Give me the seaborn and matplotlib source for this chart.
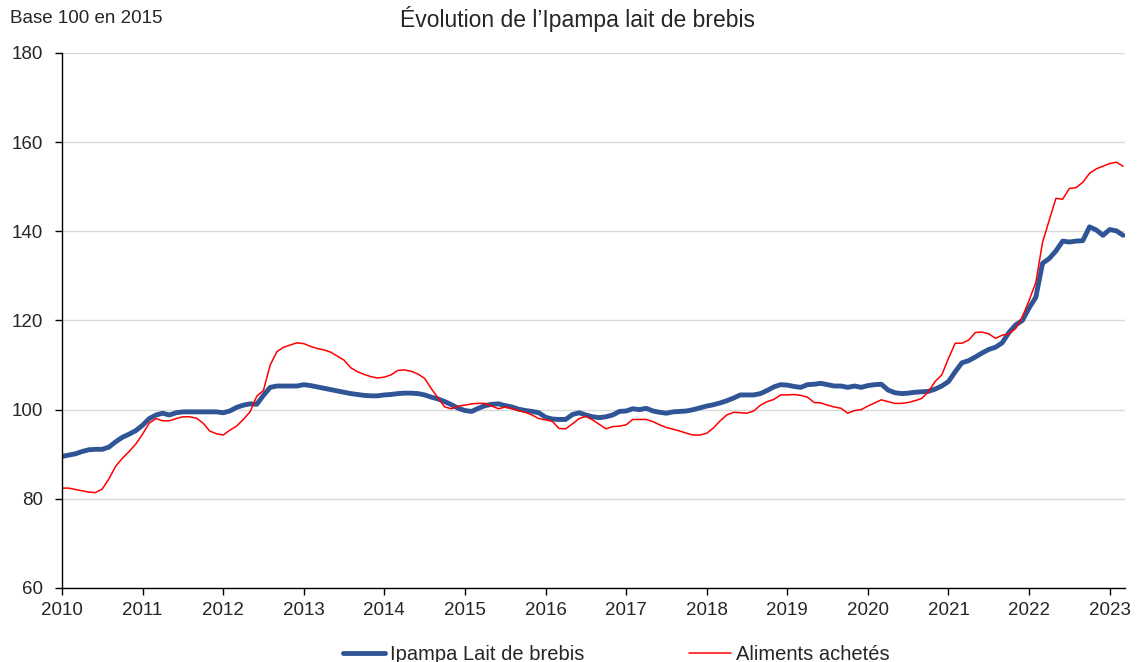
import numpy as np
import pandas as pd
import seaborn as sns
import matplotlib.pyplot as plt
from matplotlib.lines import Line2D

# monthly values, Jan 2010 -> Mar 2023 (base 100 in 2015)
ipampa = [89.5, 89.8, 90.1, 90.6, 91.0, 91.1, 91.1, 91.6, 92.8, 93.8, 94.5, 95.3,
          96.5, 98.0, 98.8, 99.2, 98.8, 99.3, 99.5, 99.5, 99.5, 99.5, 99.5, 99.5,
          99.3, 99.7, 100.5, 101.0, 101.3, 101.2, 103.2, 105.0, 105.3, 105.3, 105.3, 105.3,
          105.6, 105.4, 105.1, 104.8, 104.5, 104.2, 103.9, 103.6, 103.4, 103.2, 103.1, 103.1,
          103.3, 103.4, 103.6, 103.7, 103.7, 103.6, 103.3, 102.8, 102.4, 101.8, 101.1, 100.3,
          99.8, 99.6, 100.3, 100.9, 101.2, 101.3, 100.9, 100.6, 100.1, 99.8, 99.6, 99.3,
          98.3, 97.9, 97.8, 97.8, 98.9, 99.3, 98.8, 98.4, 98.2, 98.4, 98.8, 99.6,
          99.7, 100.2, 100.0, 100.3, 99.7, 99.4, 99.2, 99.5, 99.6, 99.7, 100.0, 100.4,
          100.8, 101.1, 101.5, 102.0, 102.6, 103.3, 103.3, 103.3, 103.6, 104.3, 105.1, 105.6,
          105.5, 105.2, 105.0, 105.6, 105.7, 105.9, 105.6, 105.3, 105.3, 105.0, 105.3, 105.0,
          105.4, 105.6, 105.7, 104.4, 103.8, 103.6, 103.7, 103.9, 104.0, 104.1, 104.6, 105.3,
          106.3, 108.5, 110.5, 111.0, 111.8, 112.7, 113.5, 114.0, 115.0, 117.3, 119.0, 120.0,
          122.8, 125.2, 132.8, 133.9, 135.6, 137.8, 137.6, 137.8, 137.9, 141.0, 140.3, 139.1,
          140.4, 140.1, 139.1]

aliments = [82.4, 82.4, 82.1, 81.8, 81.5, 81.4, 82.2, 84.5, 87.3, 89.1, 90.6, 92.3,
            94.5, 97.0, 98.0, 97.5, 97.5, 98.0, 98.4, 98.4, 98.1, 97.0, 95.2, 94.6,
            94.3, 95.4, 96.3, 97.8, 99.5, 103.0, 104.3, 110.0, 113.0, 114.0, 114.5, 115.0,
            114.8, 114.2, 113.7, 113.4, 112.9, 112.0, 111.1, 109.4, 108.5, 107.9, 107.4, 107.1,
            107.3, 107.8, 108.8, 108.9, 108.6, 108.0, 107.0, 104.7, 102.6, 100.6, 100.2, 100.8,
            101.0, 101.3, 101.4, 101.4, 100.8, 100.2, 100.6, 100.2, 99.8, 99.4, 98.8, 98.0,
            97.7, 97.4, 95.8, 95.7, 96.8, 98.0, 98.5, 97.7, 96.7, 95.7, 96.2, 96.3,
            96.6, 97.8, 97.8, 97.8, 97.3, 96.6, 96.0, 95.6, 95.2, 94.7, 94.3, 94.3,
            94.7, 95.9, 97.5, 98.8, 99.4, 99.3, 99.2, 99.7, 101.0, 101.8, 102.3, 103.3,
            103.3, 103.4, 103.2, 102.8, 101.6, 101.5, 101.0, 100.6, 100.3, 99.2, 99.8, 100.0,
            100.8, 101.5, 102.2, 101.8, 101.4, 101.4, 101.6, 102.0, 102.5, 104.0, 106.3, 107.8,
            111.5, 114.9, 114.9, 115.6, 117.3, 117.4, 117.0, 116.0, 116.7, 117.0, 118.2, 120.8,
            124.5, 128.5, 137.5, 142.5, 147.4, 147.2, 149.6, 149.8, 151.0, 153.0, 154.0, 154.6,
            155.2, 155.5, 154.6]

years = list(range(2010, 2024))
yticks = [60, 80, 100, 120, 140, 160, 180]
labels = ['Ipampa Lait de brebis', 'Aliments achetés']
colors = ['#2F5597', '#FF0000']
widths = [3.5, 1.1]

t = 2010 + np.arange(len(ipampa)) / 12
df = pd.DataFrame({'t': t, labels[0]: ipampa, labels[1]: aliments})
df = df.melt(id_vars='t', var_name='serie', value_name='indice')

sns.set_style('white')
plt.rcParams['font.family'] = ['Liberation Sans', 'DejaVu Sans']

fig = plt.figure(figsize=(11.39, 6.62), dpi=100)
ax = fig.add_axes([0.0544, 0.1118, 0.9333, 0.8082])

sns.lineplot(data=df, x='t', y='indice', hue='serie', size='serie',
             palette=dict(zip(labels, colors)), sizes=dict(zip(labels, widths)),
             ax=ax, legend=False)

ax.set_xlim(2010, 2023.19)
ax.set_ylim(60, 180)
ax.set_xticks(years)
ax.set_xticklabels([str(y) for y in years])
ax.set_yticks(yticks)
ax.yaxis.grid(True, color='#d9d9d9', linewidth=1)
ax.set_axisbelow(True)
ax.set_xlabel('')
ax.set_ylabel('')
for s in ['top', 'right']:
    ax.spines[s].set_visible(False)
for s in ['left', 'bottom']:
    ax.spines[s].set_color('black')
    ax.spines[s].set_linewidth(1)
ax.tick_params(axis='both', direction='out', length=5, width=1, color='black',
               labelsize=13.5, bottom=True, left=True)
ax.tick_params(axis='y', pad=8.5)
ax.tick_params(axis='x', pad=5)

fig.text(0.009, 0.972, 'Base 100 en 2015', fontsize=13.5, va='center', ha='left')
fig.text(0.507, 0.972, 'Évolution de l\u2019Ipampa lait de brebis', fontsize=16.5,
         va='center', ha='center')

handles = [Line2D([], [], color=c, lw=w) for c, w in zip(colors, widths)]
fig.legend(handles, labels, loc='center', bbox_to_anchor=(0.541, 0.011), ncol=2,
           frameon=False, fontsize=14.5, handlelength=2.1, handletextpad=0.25,
           columnspacing=5.2)

fig.savefig('out.png', dpi=100)
